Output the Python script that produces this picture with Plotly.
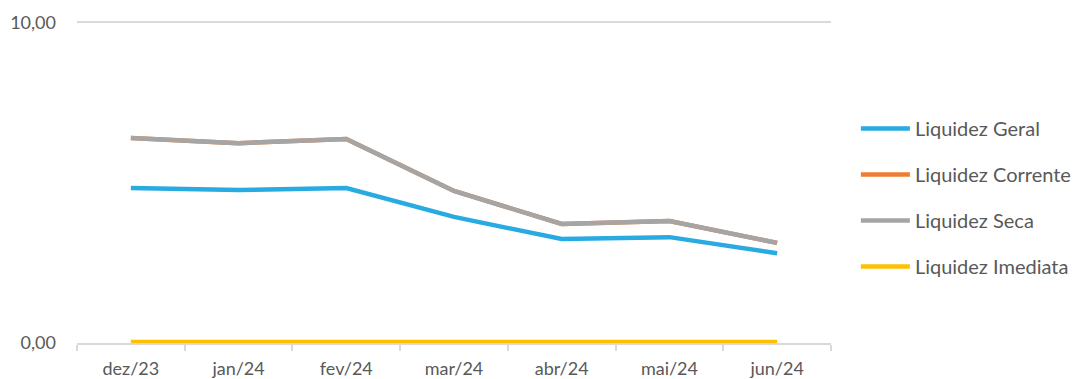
import plotly.graph_objects as go

categories = ["dez/23", "jan/24", "fev/24", "mar/24", "abr/24", "mai/24", "jun/24"]
liquidez_geral = [4.83, 4.77, 4.83, 3.93, 3.24, 3.30, 2.80]
liquidez_corrente = [6.39, 6.23, 6.36, 4.74, 3.71, 3.80, 3.12]
liquidez_seca = [6.39, 6.23, 6.36, 4.74, 3.71, 3.80, 3.12]
liquidez_imediata = [0.03, 0.03, 0.03, 0.01, 0.03, 0.03, 0.03]

series = [
    ("Liquidez Geral", liquidez_geral, "#29ABE2"),
    ("Liquidez Corrente", liquidez_corrente, "#ED7D31"),
    ("Liquidez Seca", liquidez_seca, "#A5A5A5"),
    ("Liquidez Imediata", liquidez_imediata, "#FFC000"),
]

fig = go.Figure()
for name, vals, color in series:
    fig.add_trace(go.Scatter(
        x=categories, y=vals, name=name, mode="lines",
        line=dict(color=color, width=4.5),
        legendgroup=name,
    ))

font_family = "Lato, Open Sans, sans-serif"
# The page body adds an 8px offset, so the figure is 8px smaller on each axis
fig.update_layout(
    width=1076, height=371,
    margin=dict(l=69, r=253, t=11, b=36, autoexpand=False),
    paper_bgcolor="white", plot_bgcolor="white",
    separators=",.",
    font=dict(family=font_family, color="#595959", size=18),
    showlegend=True,
    legend=dict(
        x=1.033, y=0.449, xanchor="left", yanchor="middle",
        font=dict(size=20, color="#595959"),
        tracegroupgap=17,
        itemwidth=49,
    ),
)
fig.update_xaxes(
    type="category",
    range=[-0.5, 6.5],
    automargin=False,
    showgrid=False,
    showline=True, linecolor="#D9D9D9", linewidth=1.5,
    ticks="outside", ticklen=6, tickcolor="#D9D9D9", tickwidth=1.5,
    tickson="boundaries",
    ticklabelstandoff=9,
    tickfont=dict(size=18, color="#595959"),
)
fig.update_yaxes(
    range=[0, 10.1], tickvals=[0, 10], tickformat=".2f",
    automargin=False,
    showgrid=True, gridcolor="#D9D9D9", gridwidth=1.5,
    zeroline=False, showline=False,
    ticklabelstandoff=20,
    tickfont=dict(size=18, color="#595959"),
)

fig.write_html("out.html")
